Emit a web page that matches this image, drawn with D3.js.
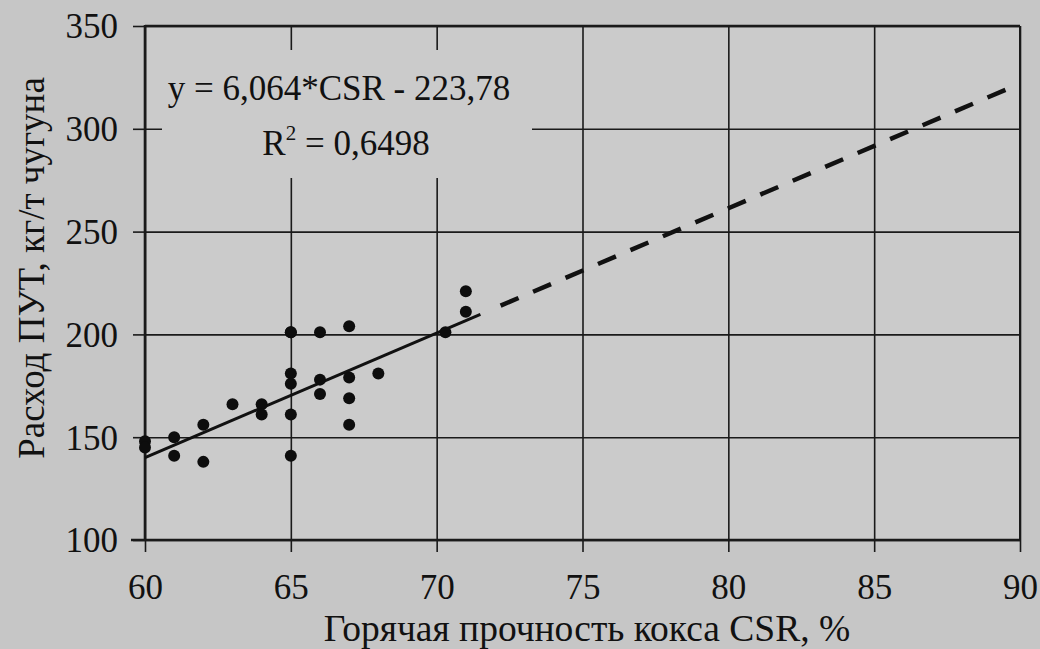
<!DOCTYPE html>
<html>
<head>
<meta charset="utf-8">
<script src="https://cdn.jsdelivr.net/npm/d3@7"></script>
<style>
  body { margin: 0; background: #c6c6c6; }
  svg { display: block; font-family: "Liberation Serif", "DejaVu Serif", serif; }
  .grid line { stroke: #1a1a1a; stroke-width: 1.6; }
  .grid path { display: none; }
  .axis path { display: none; }
  .axis line { stroke: #1a1a1a; stroke-width: 1.6; }
  .axis text { fill: #111; font-size: 35px; font-family: "Liberation Serif", serif; }
</style>
</head>
<body>
<div id="chart"></div>
<script>
// data: coke hot strength CSR (%) vs PCI rate (kg/t hot metal)
var csr = [60, 60, 61, 61, 62, 62, 63, 64, 64, 65, 65, 65, 65, 65, 65, 66, 66, 66, 67, 67, 67, 67, 68, 70.3, 71, 71];
var pci = [148, 145, 150, 141, 156, 138, 166, 166, 161, 201, 181, 176, 161, 141, 201, 201, 178, 171, 204, 179, 169, 156, 181, 201, 221, 211];

var xTicks = [60, 65, 70, 75, 80, 85, 90];
var yTicks = [100, 150, 200, 250, 300, 350];

// trend line from the equation printed on the chart
var slope = 6.064, intercept = -223.78;
var solidRange = [60, 71.5];
var dashRange = [89.5, 72];   // drawn from the far end so a dash ends there

var eqText = "y = 6,064*CSR - 223,78";
var r2Value = "0,6498";
var xTitle = "Горячая прочность кокса CSR, %";
var yTitle = "Расход ПУТ, кг/т чугуна";

var W = 1040, H = 649;
var margin = {top: 26, right: 20, bottom: 109, left: 145};
var w = W - margin.left - margin.right,
    h = H - margin.top - margin.bottom;

var svg = d3.select("#chart").append("svg")
    .attr("width", W)
    .attr("height", H);

svg.append("rect").attr("width", W).attr("height", H).attr("fill", "#c6c6c6");

var g = svg.append("g")
    .attr("transform", "translate(" + margin.left + "," + margin.top + ")");

var x = d3.scaleLinear().domain([60, 90]).range([0, w]);
var y = d3.scaleLinear().domain([100, 350]).range([h, 0]);

// plot background
g.append("rect").attr("width", w).attr("height", h).attr("fill", "#cbcbcb");

// grid
g.append("g").attr("class", "grid")
    .call(d3.axisBottom(x).tickValues(xTicks).tickSize(h).tickFormat(""));
g.append("g").attr("class", "grid")
    .call(d3.axisLeft(y).tickValues(yTicks).tickSize(-w).tickFormat(""));

// box behind the equation (hides grid)
g.append("rect")
    .attr("x", 17).attr("y", 24)
    .attr("width", 370).attr("height", 128)
    .attr("fill", "#cbcbcb");

// axes with ticks outside
g.append("g").attr("class", "axis")
    .attr("transform", "translate(0," + h + ")")
    .call(d3.axisBottom(x).tickValues(xTicks).tickSize(12).tickPadding(22))
    .attr("font-family", "Liberation Serif")
    .attr("font-size", 35);
g.append("g").attr("class", "axis")
    .call(d3.axisLeft(y).tickValues(yTicks).tickSize(12).tickPadding(15))
    .attr("font-family", "Liberation Serif")
    .attr("font-size", 35)
  .selectAll("text").attr("dy", "0.34em");

// frame: heavy left/bottom, top, right
g.append("line").attr("x1", 0).attr("x2", 0).attr("y1", -1).attr("y2", h)
    .attr("stroke", "#1a1a1a").attr("stroke-width", 2.6);
g.append("line").attr("x1", -14).attr("x2", w).attr("y1", h).attr("y2", h)
    .attr("stroke", "#1a1a1a").attr("stroke-width", 2.6);
g.append("line").attr("x1", 0).attr("x2", w).attr("y1", 0).attr("y2", 0)
    .attr("stroke", "#1a1a1a").attr("stroke-width", 2.4);
g.append("line").attr("x1", w).attr("x2", w).attr("y1", 0).attr("y2", h)
    .attr("stroke", "#1a1a1a").attr("stroke-width", 2);

// trend line
var line = d3.line()
    .x(function(d) { return x(d); })
    .y(function(d) { return y(slope * d + intercept); });

g.append("path")
    .datum(solidRange)
    .attr("d", line)
    .attr("fill", "none")
    .attr("stroke", "#111")
    .attr("stroke-width", 3);

g.append("path")
    .datum(dashRange)
    .attr("d", line)
    .attr("fill", "none")
    .attr("stroke", "#111")
    .attr("stroke-width", 4.5)
    .attr("stroke-dasharray", "19.5,15.8");

// points
g.selectAll("circle.pt")
    .data(csr)
  .enter().append("circle")
    .attr("class", "pt")
    .attr("cx", function(d) { return x(d); })
    .attr("cy", function(d, i) { return y(pci[i]); })
    .attr("r", 6)
    .attr("fill", "#0d0d0d");

// equation
g.append("text")
    .attr("x", 194).attr("y", 74)
    .attr("text-anchor", "middle")
    .attr("font-family", "Liberation Serif")
    .attr("font-size", 35)
    .attr("fill", "#111")
    .text(eqText);

var r2 = g.append("text")
    .attr("x", 201).attr("y", 129)
    .attr("text-anchor", "middle")
    .attr("font-family", "Liberation Serif")
    .attr("font-size", 35)
    .attr("fill", "#111");
r2.append("tspan").text("R");
r2.append("tspan").attr("font-size", 21).attr("dy", -15).text("2");
r2.append("tspan").attr("dy", 15).text(" = " + r2Value);

// axis titles
svg.append("text")
    .attr("x", 587)
    .attr("y", 641)
    .attr("text-anchor", "middle")
    .attr("font-family", "Liberation Serif")
    .attr("font-size", 37.5)
    .attr("fill", "#111")
    .text(xTitle);

svg.append("text")
    .attr("transform", "translate(44,268) rotate(-90)")
    .attr("text-anchor", "middle")
    .attr("font-family", "Liberation Serif")
    .attr("font-size", 37)
    .attr("fill", "#111")
    .text(yTitle);
</script>
</body>
</html>
